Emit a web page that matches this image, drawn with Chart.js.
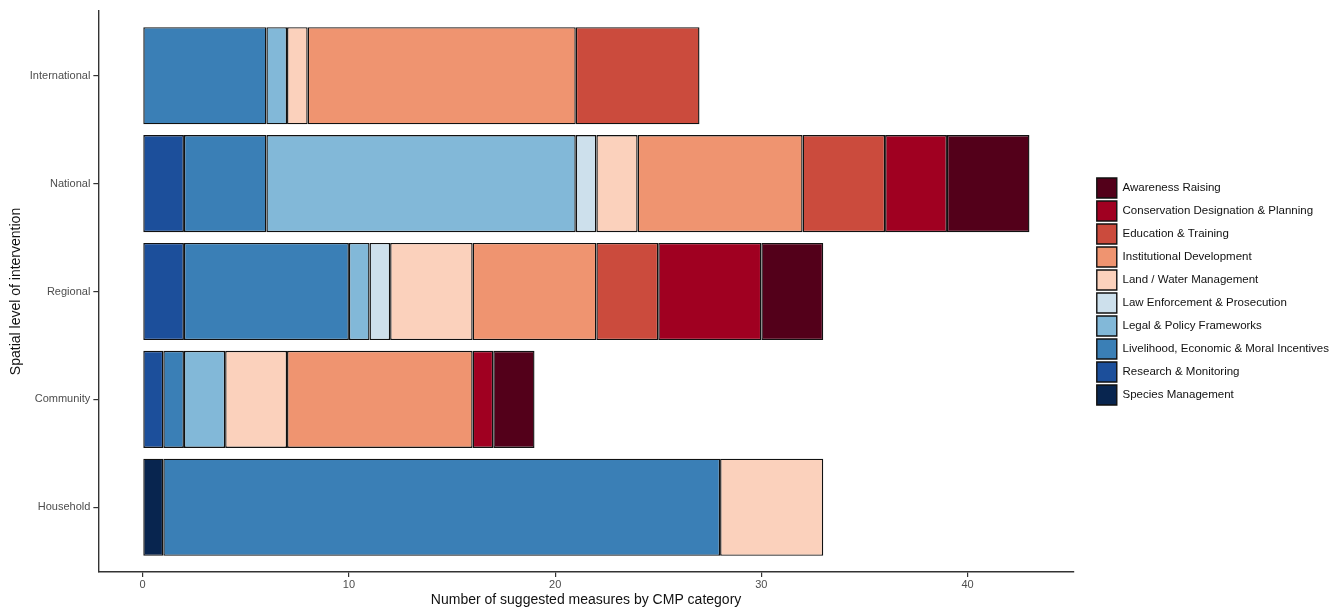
<!DOCTYPE html>
<html lang="en">
<head>
  <meta charset="UTF-8" />
  <title>Suggested measures by CMP category</title>
  <script src="https://cdn.jsdelivr.net/npm/chart.js"></script>
  <style>
    html, body { margin: 0; padding: 0; background: #fff; }
    #wrap { width: 1336px; height: 609px; }
  </style>
</head>
<body>
  <div id="wrap"><canvas id="grafico"></canvas></div>

  <script>
    // levels, top to bottom
    const levels = ['International', 'National', 'Regional', 'Community', 'Household'];

    // CMP categories in stacking order (left to right)
    const categories = [
      'Species Management',
      'Research & Monitoring',
      'Livelihood, Economic & Moral Incentives',
      'Legal & Policy Frameworks',
      'Law Enforcement & Prosecution',
      'Land / Water Management',
      'Institutional Development',
      'Education & Training',
      'Conservation Designation & Planning',
      'Awareness Raising'
    ];
    const colores = ['#08254f', '#1c4f9b', '#3a7fb6', '#82b8d8', '#cde0ec',
                     '#fbd1bc', '#ef9470', '#cb4b3d', '#a00021', '#53001a'];

    // counts per level: International, National, Regional, Community, Household
    const speciesMgmt   = [0, 0, 0, 0, 1];
    const research      = [0, 2, 2, 1, 0];
    const livelihood    = [6, 4, 8, 1, 27];
    const legalPolicy   = [1, 15, 1, 2, 0];
    const lawEnforce    = [0, 1, 1, 0, 0];
    const landWater     = [1, 2, 4, 3, 5];
    const institutional = [13, 8, 6, 9, 0];
    const education     = [6, 4, 3, 0, 0];
    const conservation  = [0, 3, 5, 1, 0];
    const awareness     = [0, 4, 3, 2, 0];
    const series = [speciesMgmt, research, livelihood, legalPolicy, lawEnforce,
                    landWater, institutional, education, conservation, awareness];

    const xTicks = [0, 10, 20, 30, 40];

    const fuente = '"Liberation Sans", Arial, sans-serif';
    Chart.defaults.font.family = fuente;

    // level i sits at y = 5 - i so International is on top
    const datasets = series.map((vals, k) => ({
      label: categories[k],
      data: vals.map((v, i) => ({ x: v, y: levels.length - i }))
                .filter(p => p.x > 0),
      backgroundColor: colores[k],
      borderColor: '#111',
      borderWidth: 1.4,
      borderSkipped: false,
      stack: 'cmp',
      barPercentage: 0.9,
      categoryPercentage: 1
    }));

    const ejeGris = { drawOnChartArea: false, drawTicks: true, tickLength: 5, color: '#333', lineWidth: 1.2, offset: false };

    new Chart(document.getElementById('grafico'), {
      type: 'bar',
      data: { datasets: datasets },
      options: {
        indexAxis: 'y',
        responsive: true,
        maintainAspectRatio: false,
        animation: false,
        layout: { padding: { top: 11, right: -3, bottom: 0, left: 4 } },
        plugins: {
          tooltip: { enabled: false },
          legend: {
            position: 'right',
            fullSize: false,
            maxWidth: 280,
            reverse: true,
            labels: {
              boxWidth: 20,
              boxHeight: 20,
              padding: 3,
              color: '#111',
              font: { size: 11.5 }
            }
          }
        },
        scales: {
          x: {
            type: 'linear',
            stacked: true,
            min: -2.15,
            max: 45.15,
            afterBuildTicks: axis => { axis.ticks = xTicks.map(v => ({ value: v })); },
            ticks: { color: '#4d4d4d', font: { size: 11 }, padding: 1 },
            grid: ejeGris,
            border: { display: true, color: '#333', width: 1.4 },
            title: {
              display: true,
              text: 'Number of suggested measures by CMP category',
              color: '#111',
              font: { size: 14 },
              padding: { top: 0, bottom: 0 }
            }
          },
          y: {
            type: 'linear',
            offset: false,
            min: 0.4,
            max: 5.6,
            ticks: {
              stepSize: 1,
              includeBounds: false,
              color: '#4d4d4d',
              font: { size: 11 },
              padding: 3,
              callback: v => levels[levels.length - v]
            },
            grid: ejeGris,
            border: { display: true, color: '#333', width: 1.4 },
            title: {
              display: true,
              text: 'Spatial level of intervention',
              color: '#111',
              font: { size: 14 },
              padding: { top: 4, bottom: 2 }
            }
          },
          // empty spacer between the panel and the legend
          hueco: {
            type: 'linear',
            position: 'right',
            display: true,
            grid: { display: false },
            ticks: { display: false },
            border: { display: false },
            afterFit: s => { s.width = 20; }
          }
        }
      }
    });
  </script>
</body>
</html>
